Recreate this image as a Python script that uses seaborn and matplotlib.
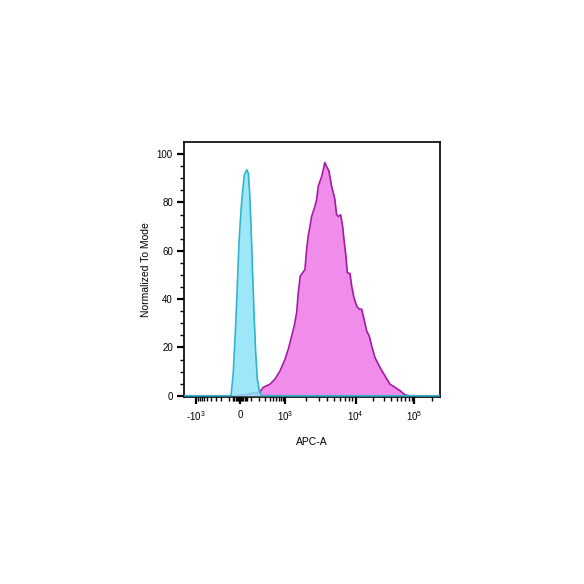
import numpy as np
import matplotlib
matplotlib.use("Agg")
import matplotlib.pyplot as plt
import seaborn as sns

# control (unstained / isotype) histogram: APC-A value vs % of mode
ctrl_x = [-2000, -83, -61, -39, -24, -9, 9, 24, 38, 60, 75, 88, 102, 120,
          138, 155, 176, 204, 241, 300000]
ctrl_y = [0, 0, 9.6, 28.9, 45.4, 63.3, 77, 85.2, 91.4, 93.5, 92.1, 83.9, 70.1,
          49.5, 31.6, 17.9, 6.9, 2, 0, 0]

# stained sample histogram
stain_x = [-2000, -45, 44, 112, 172, 214, 268, 410, 555, 747, 1000, 1114,
           1245, 1355, 1466, 1545, 1648, 1783, 1922, 2031, 2140, 2263, 2392,
           2666, 2816, 2966, 3317, 3491, 3690, 3901, 4207, 4596, 5070, 5410,
           5702, 6166, 6579, 6869, 7328, 7652, 8356, 8831, 9525, 10479, 11599,
           12735, 13559, 15480, 17135, 18817, 21410, 26020, 31620, 38430,
           46700, 56770, 69020, 83900, 300000]
stain_y = [0, 0, 0.5, 1, 1.3, 1.6, 3.5, 4.8, 6.9, 10.3, 15.1, 19.3,
           24.7, 28.9, 34.4, 42.6, 49.5, 50.9, 52.2, 60.5, 66, 70.1, 74.2,
           78.4, 81.1, 86.6, 90.7, 93.5, 96.5, 94.8, 93, 86.6, 81.8, 74.9,
           74.2, 74.9, 70.1, 64.6, 57.7, 50.9, 50.6, 45.4, 40.6, 37.1, 35.8,
           35.8, 33, 26.8, 24.7, 20.6, 15.8, 11.7, 8.2, 4.8,
           3.5, 2.1, 0.4, 0, 0]

major_x = [-1000, 0, 1000, 10000, 100000]
major_x_labels = ['-$10^3$', '0', '$10^3$', '$10^4$', '$10^5$']

# biexponential-like display scale (asinh, pinned at the decade ticks)
C = 150.0
anchor_v = np.array([-1e3, 0, 1e3, 1e4, 1e5])
anchor_p = np.array([196, 240, 285, 355.5, 414.5])
anchor_t = np.arcsinh(anchor_v / C)
sl = (anchor_p[1] - anchor_p[0]) / (anchor_t[1] - anchor_t[0])
sr = (anchor_p[-1] - anchor_p[-2]) / (anchor_t[-1] - anchor_t[-2])
T = np.concatenate([[anchor_t[0] - 30], anchor_t, [anchor_t[-1] + 30]])
P = np.concatenate([[anchor_p[0] - 30 * sl], anchor_p, [anchor_p[-1] + 30 * sr]])


def fwd(x):
    return np.interp(np.arcsinh(np.asarray(x, float) / C), T, P)


def inv(p):
    return C * np.sinh(np.interp(np.asarray(p, float), P, T))


sns.set_style("ticks")
plt.rcParams['font.family'] = ['Liberation Sans', 'DejaVu Sans']
plt.rcParams['mathtext.fontset'] = 'custom'
plt.rcParams['mathtext.rm'] = 'Liberation Sans'
plt.rcParams['mathtext.it'] = 'Liberation Sans:italic'
plt.rcParams['text.color'] = 'black'
plt.rcParams['axes.labelcolor'] = 'black'
plt.rcParams['xtick.color'] = 'black'
plt.rcParams['ytick.color'] = 'black'

fig = plt.figure(figsize=(5.84, 5.84), dpi=100)
ax = fig.add_axes([184 / 584, 1 - 397 / 584, 256 / 584, 255 / 584])
ax.set_xscale('function', functions=(fwd, inv))

ax.fill_between(stain_x, stain_y, 0, color='#F08CEA', lw=0, zorder=1)
sns.lineplot(x=stain_x, y=stain_y, ax=ax, color='#A31AA6', lw=1.2,
             estimator=None, sort=False, zorder=2)
ax.fill_between(ctrl_x, ctrl_y, 0, color='#8DE3F7', lw=0, alpha=0.85, zorder=3)
sns.lineplot(x=ctrl_x, y=ctrl_y, ax=ax, color='#2FB5CC', lw=1.2,
             estimator=None, sort=False, zorder=4)

ax.set_xlim(inv(184), inv(440))
ax.set_ylim(-0.5, 105)

minor_x = ([-v for v in range(100, 1000, 100)] + [-v for v in range(10, 70, 10)]
           + list(range(10, 70, 10)) + list(range(100, 1000, 100))
           + list(range(2000, 10000, 1000)) + list(range(20000, 100000, 10000))
           + [200000])
ax.set_xticks(major_x)
ax.set_xticklabels(major_x_labels)
ax.set_xticks(minor_x, minor=True)
ax.set_yticks(range(0, 101, 20))
ax.set_yticks([v for v in range(5, 105, 5) if v % 20], minor=True)

for s in ax.spines.values():
    s.set_color('black')
    s.set_linewidth(1.2)
ax.tick_params(which='major', length=5, width=1.6, color='black',
               labelsize=7, pad=3, labelcolor='black')
ax.tick_params(which='minor', length=3, width=1, color='black')
ax.tick_params(axis='x', which='major', pad=4)

ax.set_xlabel('APC-A', fontsize=7.5, labelpad=10, color='black')
ax.set_ylabel('Normalized To Mode', fontsize=7.5, labelpad=4, color='black')
ax.grid(False)

fig.savefig('out.png', dpi=100, facecolor='white')
